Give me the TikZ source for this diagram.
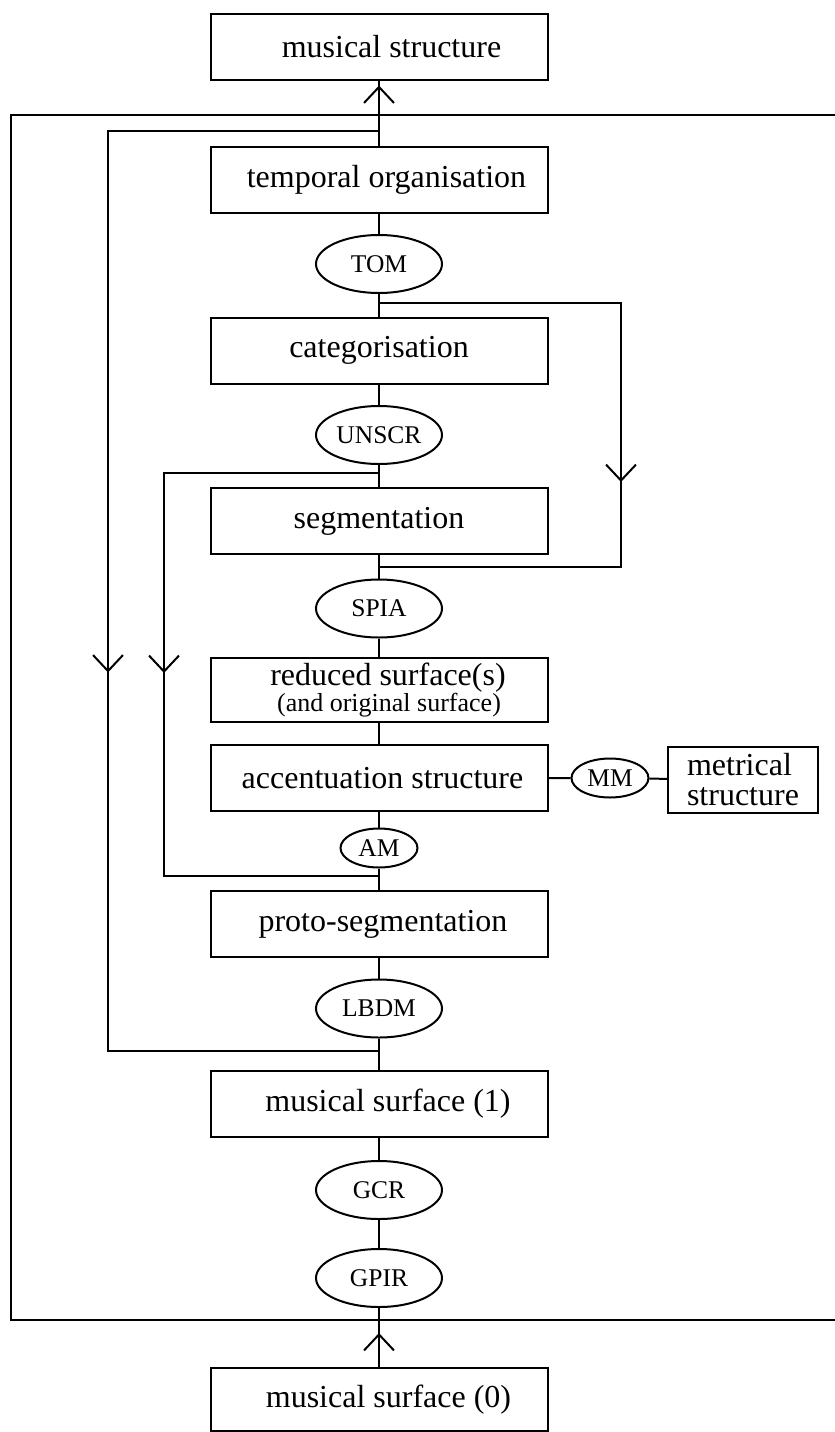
\documentclass[tikz,border=0pt]{standalone}
\usepackage{fontspec}
\setmainfont{Liberation Serif}
\usetikzlibrary{shapes.geometric,arrows.meta,decorations.markings}

\begin{document}
\begin{tikzpicture}[x=1pt, y=-1pt, line width=2pt,
  box/.style={draw, minimum width=337pt, minimum height=66pt, inner sep=0pt, font=\fontsize{32}{32}\selectfont},
  oval/.style={ellipse, draw, minimum width=126pt, minimum height=58pt, inner sep=0pt, font=\fontsize{25.5}{26}\selectfont},
  smalloval/.style={oval, minimum width=77pt, minimum height=39pt},
  midbarb/.style={postaction={decorate}, decoration={markings,
    mark=at position #1 with {\arrow{Straight Barb[length=16pt,width=30pt]}}}}]
\useasboundingbox (0,0) rectangle (835,1432);

% outer frame, cut off at the right
\draw[line width=2.4pt] (845,115) -- (11,115) -- (11,1320) -- (845,1320);

% main column
\node[box] (mstruct) at (379,46.5) {\hspace{25pt}musical structure};
\node[box] (temporal) at (379,179.5) {\hspace{15pt}temporal organisation};
\node[oval] (tom) at (379,264) {TOM};
\node[box] (categ) at (379,350.5) {categorisation\hspace{15pt}};
\node[oval] (unscr) at (379,435) {UNSCR};
\node[box] (segm) at (379,521) {segmentation\hspace{13pt}};
\node[oval] (spia) at (379,608.5) {SPIA};
\node[box, minimum height=64pt, align=center, font=\fontsize{32}{26}\selectfont] (reduced) at (379,690)
  {\hspace{18pt}reduced surface(s)\\{\fontsize{26}{26}\selectfont\hspace{20pt}(and original surface)}};
\node[box] (accent) at (379,778) {\hspace{7pt}accentuation structure};
\node[smalloval] (mm) at (610,778) {MM};
\node[draw, minimum width=150pt, minimum height=66pt, inner sep=0pt, align=left,
  font=\fontsize{32}{30}\selectfont] (metric) at (743,780) {metrical\\structure};
\node[smalloval] (am) at (379,848) {AM};
\node[box] (proto) at (379,924) {\hspace{8pt}proto-segmentation};
\node[oval] (lbdm) at (379,1008.5) {LBDM};
\node[box] (msurf1) at (379,1103.5) {\hspace{18pt}musical surface (1)};
\node[oval] (gcr) at (379,1190) {GCR};
\node[oval] (gpir) at (379,1278) {GPIR};
\node[box, minimum height=63pt] (msurf0) at (379,1399.5) {\hspace{19pt}musical surface (0)};

% branch points
\coordinate (jtop) at (379,130.5);
\coordinate (jright) at (379,303);
\coordinate (jleft) at (379,473);
\coordinate (jret) at (379,567);
\coordinate (jam) at (379,876);
\coordinate (jlbdm) at (379,1051);
\coordinate (lout) at (108,1051);
\coordinate (lin) at (164,876);
\coordinate (rout) at (621,567);

% vertical links
\draw[midbarb=60pt] (temporal) -- (mstruct);
\draw (temporal) -- (tom) -- (categ) -- (unscr) -- (segm) -- (spia) -- (reduced) -- (accent) -- (am) -- (proto) -- (lbdm) -- (msurf1) -- (gcr) -- (gpir);
\draw[midbarb=34pt] (msurf0) -- (gpir);
\draw (accent) -- (mm) -- (metric);

% feedback loops
\draw[midbarb=813pt] (jtop) -| (lout) -- (jlbdm);
\draw[midbarb=421pt] (jright) -| (rout) -- (jret);
\draw[midbarb=415pt] (jleft) -| (lin) -- (jam);
\end{tikzpicture}
\end{document}
